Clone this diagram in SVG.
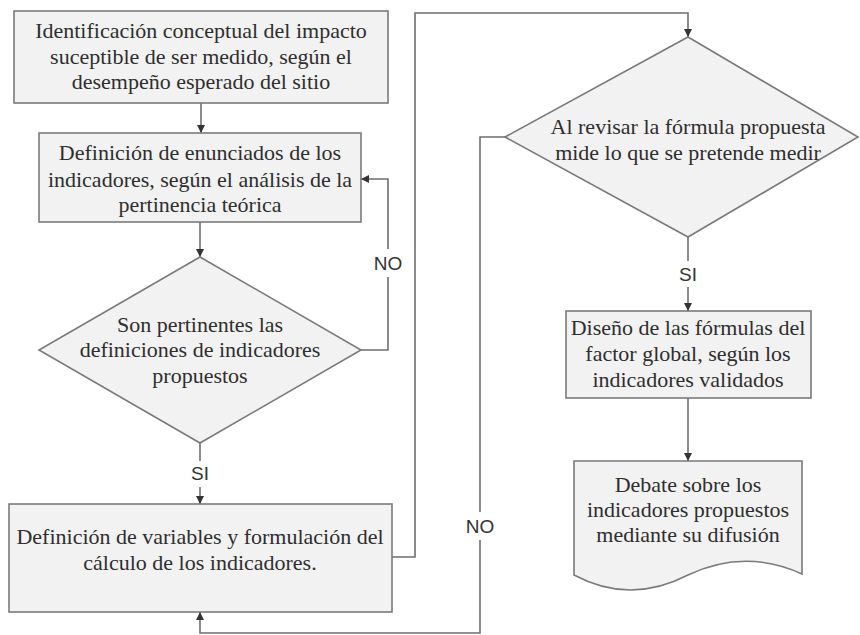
<svg xmlns="http://www.w3.org/2000/svg" width="860" height="635" viewBox="0 0 860 635">
<defs>
<marker id="ah" markerUnits="userSpaceOnUse" markerWidth="8" markerHeight="8" refX="8" refY="4" orient="auto">
<path d="M0,0 L8,4 L0,8 z" fill="#333"/>
</marker>
<style>
.shape{fill:#f2f2f2;stroke:#7a7a7a;stroke-width:1.6}
.c{fill:none;stroke:#6e6e6e;stroke-width:1.6}
.ca{fill:none;stroke:#6e6e6e;stroke-width:1.6;marker-end:url(#ah)}
</style>
</defs>
<rect width="860" height="635" fill="#ffffff"/>
<g id="connectors">
<path class="ca" d="M201,103 V133"/>
<path class="ca" d="M200,222 V257"/>
<path class="c" d="M361,350 H388 V277"/>
<path class="ca" d="M388,249 V179 H361"/>
<path class="c" d="M200,443 V461"/>
<path class="ca" d="M200,487 V504"/>
<path class="ca" d="M392,557 H415 V13 H688 V37"/>
<path class="c" d="M505,137 H480 V512"/>
<path class="ca" d="M480,540 V633 H200 V612"/>
<path class="c" d="M688,237 V261"/>
<path class="ca" d="M688,287 V311"/>
<path class="ca" d="M688,398 V461"/>
<g style="font-family:'Liberation Sans',sans-serif;font-size:19px" fill="#333" text-anchor="middle">
<text x="388" y="270">NO</text>
<text x="200" y="480">SI</text>
<text x="480" y="533">NO</text>
<text x="688" y="281">SI</text>
</g>
</g>
<g id="n1" style="font-family:'Liberation Serif',serif;font-size:22px" fill="#2e2e2e" text-anchor="middle">
<rect class="shape" x="14" y="11" width="374" height="92"/>
<text x="201" y="38">Identificación conceptual del impacto</text>
<text x="201" y="64">suceptible de ser medido, según el</text>
<text x="201" y="89">desempeño esperado del sitio</text>
</g>
<g id="n2" style="font-family:'Liberation Serif',serif;font-size:22px" fill="#2e2e2e" text-anchor="middle">
<rect class="shape" x="39" y="133" width="322" height="89"/>
<text x="200" y="160">Definición de enunciados de los</text>
<text x="200" y="187">indicadores, según el análisis de la</text>
<text x="200" y="212">pertinencia teórica</text>
</g>
<g id="d1" style="font-family:'Liberation Serif',serif;font-size:22px" fill="#2e2e2e" text-anchor="middle">
<polygon class="shape" points="200,257 361,350 200,443 39,350"/>
<text x="200" y="332">Son pertinentes las</text>
<text x="200" y="357">definiciones de indicadores</text>
<text x="200" y="383">propuestos</text>
</g>
<g id="n3" style="font-family:'Liberation Serif',serif;font-size:22px" fill="#2e2e2e" text-anchor="middle">
<rect class="shape" x="9" y="504" width="383" height="108"/>
<text x="200" y="544">Definición de variables y formulación del</text>
<text x="200" y="570">cálculo de los indicadores.</text>
</g>
<g id="d2" style="font-family:'Liberation Serif',serif;font-size:22px" fill="#2e2e2e" text-anchor="middle">
<polygon class="shape" points="688,37 858,137 688,237 505,137"/>
<text x="688" y="134">Al revisar la fórmula propuesta</text>
<text x="688" y="160">mide lo que se pretende medir</text>
</g>
<g id="n4" style="font-family:'Liberation Serif',serif;font-size:22px" fill="#2e2e2e" text-anchor="middle">
<rect class="shape" x="566" y="311" width="245" height="87"/>
<text x="688" y="335">Diseño de las fórmulas del</text>
<text x="688" y="361">factor global, según los</text>
<text x="688" y="387">indicadores validados</text>
</g>
<g id="doc" style="font-family:'Liberation Serif',serif;font-size:22px" fill="#2e2e2e" text-anchor="middle">
<path class="shape" d="M574,461 H802 V574 Q745,548 688,575 Q630,605 574,575 Z"/>
<text x="688" y="492">Debate sobre los</text>
<text x="688" y="517">indicadores propuestos</text>
<text x="688" y="542">mediante su difusión</text>
</g>
</svg>
